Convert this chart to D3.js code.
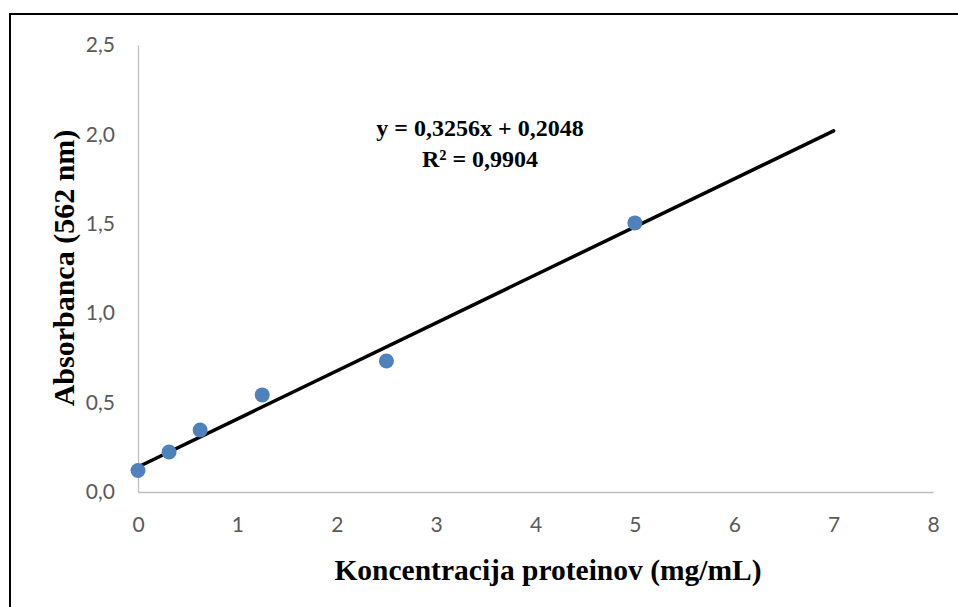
<!DOCTYPE html>
<html>
<head>
<meta charset="utf-8">
<script src="https://cdn.jsdelivr.net/npm/d3@7"></script>
<style>
  html, body { margin: 0; padding: 0; background: #fff; }
  svg { display: block; }
</style>
</head>
<body>
<svg id="chart" width="958" height="607"></svg>
<script>
// Data
const concentration = [0, 0.3125, 0.625, 1.25, 2.5, 5];
const absorbance = [0.12, 0.224, 0.347, 0.543, 0.733, 1.505];
const trendX = [0, 7];
const trendY = [0.14, 2.02];
const xTicks = [0, 1, 2, 3, 4, 5, 6, 7, 8];
const yTicks = [0, 0.5, 1.0, 1.5, 2.0, 2.5];
const equationLines = ["y = 0,3256x + 0,2048", "R² = 0,9904"];
const xTitle = "Koncentracija proteinov (mg/mL)";
const yTitle = "Absorbanca (562 nm)";

const svg = d3.select("#chart");
const W = 958, H = 607;
const plot = { left: 138, right: 933, top: 45, bottom: 492 };

// Outer border (only top and left visible within the frame)
svg.append("rect")
  .attr("x", 10).attr("y", 14)
  .attr("width", W + 20).attr("height", H + 20)
  .attr("fill", "#fff").attr("stroke", "#000").attr("stroke-width", 2);

const x = d3.scaleLinear().domain([0, 8]).range([plot.left, plot.right]);
const y = d3.scaleLinear().domain([0, 2.5]).range([plot.bottom, plot.top]);
const fmt = d => d3.format(".1f")(d).replace(".", ",");
const tickFont = "Lato, 'Open Sans', sans-serif";

// X axis
const xAxis = svg.append("g")
  .attr("transform", `translate(0,${plot.bottom})`)
  .call(d3.axisBottom(x).tickValues(xTicks).tickSize(0).tickPadding(40).tickFormat(d3.format("d")));
xAxis.select(".domain").attr("stroke", "#bfbfbf").attr("stroke-width", 1.3);
xAxis.selectAll("text")
  .attr("fill", "#595959").style("font-family", tickFont).style("font-size", "21px")
  .attr("dy", "0");

// Y axis
const yAxis = svg.append("g")
  .attr("transform", `translate(${plot.left},0)`)
  .call(d3.axisLeft(y).tickValues(yTicks).tickSize(0).tickPadding(23).tickFormat(fmt));
yAxis.select(".domain").attr("stroke", "#bfbfbf").attr("stroke-width", 1.3);
yAxis.selectAll("text")
  .attr("fill", "#595959").style("font-family", tickFont).style("font-size", "21px");

// Trend line
const line = d3.line().x(d => x(d[0])).y(d => y(d[1]));
svg.append("path")
  .datum(trendX.map((v, i) => [v, trendY[i]]))
  .attr("d", line)
  .attr("fill", "none").attr("stroke", "#000").attr("stroke-width", 3.5).attr("stroke-linecap", "round");

// Points
svg.append("g").selectAll("circle")
  .data(concentration.map((v, i) => [v, absorbance[i]]))
  .join("circle")
  .attr("cx", d => x(d[0])).attr("cy", d => y(d[1]))
  .attr("r", 7.5).attr("fill", "#4f81bd");

// Equation
const serif = "'Liberation Serif', 'Times New Roman', serif";
const eq = svg.append("text")
  .attr("x", 480).attr("y", 136)
  .attr("text-anchor", "middle")
  .style("font-family", serif)
  .style("font-weight", "bold").style("font-size", "24px").attr("fill", "#000");
equationLines.forEach((t, i) => {
  eq.append("tspan").attr("x", 480).attr("dy", i === 0 ? 0 : 31).text(t);
});

// Axis titles
svg.append("text")
  .attr("x", 548).attr("y", 580)
  .attr("text-anchor", "middle")
  .style("font-family", serif)
  .style("font-weight", "bold").style("font-size", "29.5px").attr("fill", "#000")
  .text(xTitle);

svg.append("text")
  .attr("transform", "translate(74,268) rotate(-90)")
  .attr("text-anchor", "middle")
  .style("font-family", serif)
  .style("font-weight", "bold").style("font-size", "30px").attr("fill", "#000")
  .text(yTitle);
</script>
</body>
</html>
